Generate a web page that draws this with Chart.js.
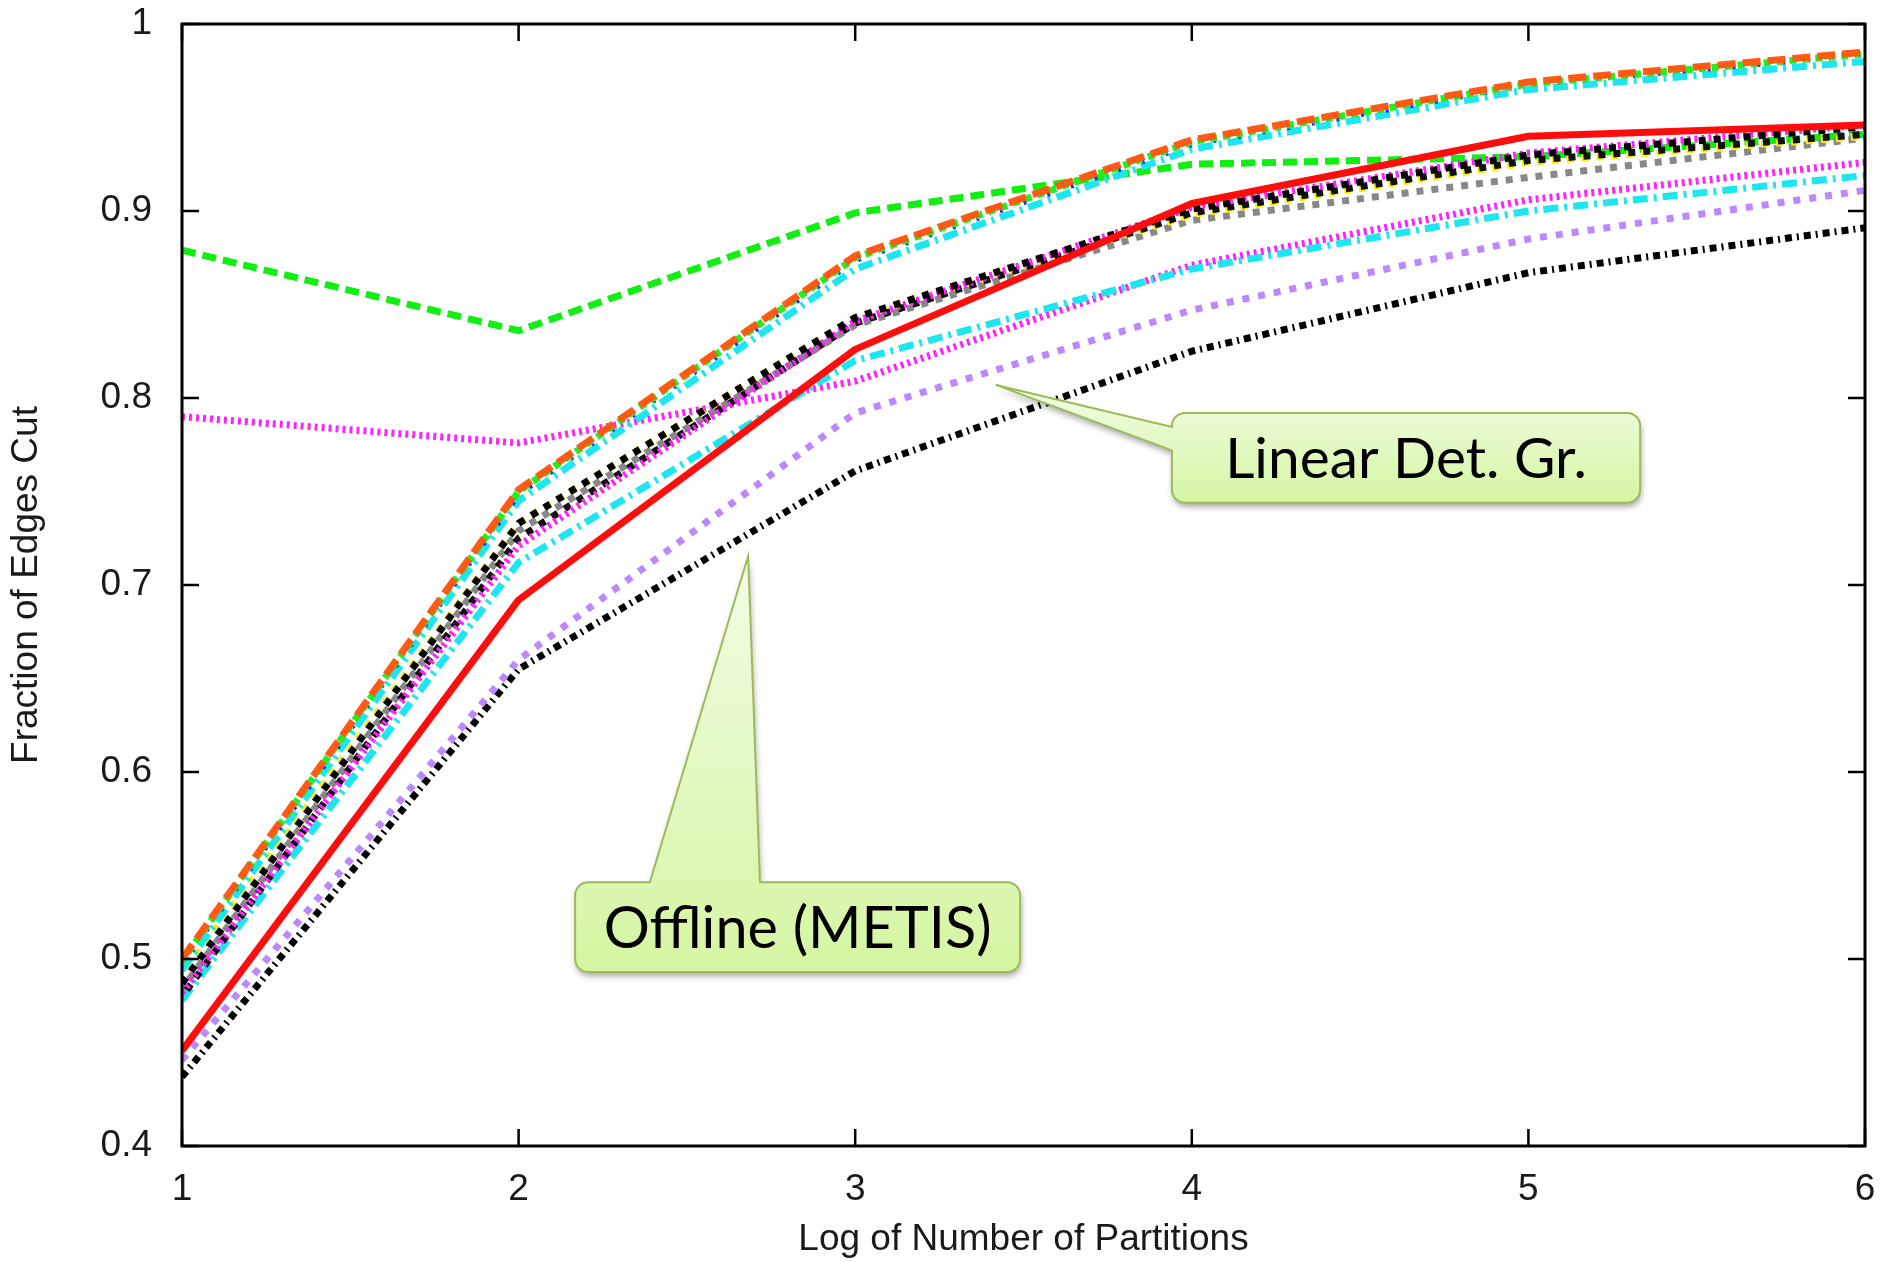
<!DOCTYPE html>
<html>

<head>
  <title>Fraction of Edges Cut</title>
  <script src="https://cdn.jsdelivr.net/npm/chart.js"></script>
  <style>
    html, body { margin: 0; padding: 0; background: #fff; }
    canvas { display: block; }
  </style>
</head>

<body>
  <canvas id="cutChart" width="1886" height="1262"></canvas>

  <script>
    // x = log of number of partitions
    const partitions = [1, 2, 3, 4, 5, 6];
    const yTickValues = [0.4, 0.5, 0.6, 0.7, 0.8, 0.9, 1];

    // series values
    const orangeTop    = [0.500, 0.751, 0.876, 0.938, 0.969, 0.985];
    const greenTop     = [0.499, 0.750, 0.875, 0.937, 0.968, 0.984];
    const blueTop      = [0.498, 0.749, 0.874, 0.936, 0.968, 0.984];
    const cyanTop      = [0.494, 0.745, 0.869, 0.933, 0.965, 0.980];
    const redSolid     = [0.451, 0.692, 0.826, 0.904, 0.940, 0.946];
    const blackDotA    = [0.487, 0.733, 0.843, 0.901, 0.930, 0.945];
    const magentaMid   = [0.482, 0.721, 0.841, 0.902, 0.931, 0.946];
    const blackDotB    = [0.480, 0.725, 0.840, 0.899, 0.927, 0.941];
    const yellowDot    = [0.492, 0.733, 0.843, 0.898, 0.926, 0.940];
    const grayDot      = [0.484, 0.729, 0.839, 0.895, 0.918, 0.939];
    const cyanLow      = [0.478, 0.712, 0.820, 0.869, 0.900, 0.919];
    const magentaTop   = [0.790, 0.776, 0.809, 0.871, 0.906, 0.926];
    const purpleDot    = [0.446, 0.660, 0.792, 0.847, 0.885, 0.911];
    const blackDashDot = [0.437, 0.655, 0.761, 0.825, 0.867, 0.891];
    const greenDash    = [0.879, 0.836, 0.899, 0.925, 0.929, 0.941];

    // callout labels, anchored in data units
    const callouts = [
      {
        text: 'Linear Det. Gr.',
        tip: { x: 3.418, y: 0.807 },
        box: { x0: 3.941, x1: 5.332, y0: 0.792, y1: 0.744 },
        wedge: { side: 'left', a: 0.7845, b: 0.772 },
        textWidth: 362
      },
      {
        text: 'Offline (METIS)',
        tip: { x: 2.682, y: 0.7155 },
        box: { x0: 2.168, x1: 3.490, y0: 0.541, y1: 0.493 },
        wedge: { side: 'top', a: 2.390, b: 2.717 },
        textWidth: 388
      }
    ];

    function series(label, values, color, dash, width, offset) {
      return {
        label: label,
        data: partitions.map((p, i) => ({ x: p, y: values[i] })),
        borderColor: color,
        backgroundColor: color,
        borderWidth: width || 7,
        borderDash: dash || [],
        borderDashOffset: offset || 0,
        borderCapStyle: 'butt',
        borderJoinStyle: 'round',
        pointRadius: 0,
        tension: 0,
        fill: false
      };
    }

    // dataset 0 is drawn last (on top)
    const datasets = [
      series('orange', orangeTop, '#ff5a14', [18, 7]),
      series('green top', greenTop, '#22ee22', [7, 6], 7, 3),
      series('blue top', blueTop, '#1133ff', [3, 22], 7, 10),
      series('cyan top', cyanTop, '#1ee6f0', [15, 6, 3, 6]),
      series('red', redSolid, '#ff0c0c', [], 7),
      series('black dot A', blackDotA, '#000000', [7, 8]),
      series('magenta mid', magentaMid, '#ff22ff', [3, 4]),
      series('black dot B', blackDotB, '#111111', [7, 8], 7, 7),
      series('yellow', yellowDot, '#ffee00', [7, 8], 7, 7),
      series('gray', grayDot, '#888888', [7, 8], 7, 3),
      series('cyan low', cyanLow, '#1ee6f0', [15, 6, 3, 6]),
      series('magenta top', magentaTop, '#ff22ff', [3, 4]),
      series('purple', purpleDot, '#bb88ff', [7, 9]),
      series('black dash-dot', blackDashDot, '#000000', [7, 5, 2, 5]),
      series('green dashed', greenDash, '#11ee11', [14, 7])
    ];

    // frame with inward ticks on all four sides
    const frameTicks = {
      id: 'frameTicks',
      afterDatasetsDraw(chart) {
        const { ctx, chartArea: a, scales: { x, y } } = chart;
        const len = 17;
        ctx.save();
        ctx.strokeStyle = '#000';
        ctx.lineWidth = 2.5;
        ctx.beginPath();
        x.ticks.forEach(t => {
          const px = x.getPixelForValue(t.value);
          ctx.moveTo(px, a.bottom); ctx.lineTo(px, a.bottom - len);
          ctx.moveTo(px, a.top); ctx.lineTo(px, a.top + len);
        });
        y.ticks.forEach(t => {
          const py = y.getPixelForValue(t.value);
          ctx.moveTo(a.left, py); ctx.lineTo(a.left + len, py);
          ctx.moveTo(a.right, py); ctx.lineTo(a.right - len, py);
        });
        ctx.stroke();
        ctx.lineWidth = 3;
        ctx.strokeRect(a.left, a.top, a.right - a.left, a.bottom - a.top);
        ctx.restore();
      }
    };

    // green rounded callout boxes
    const calloutBoxes = {
      id: 'calloutBoxes',
      afterDraw(chart) {
        const { ctx, scales: { x, y } } = chart;
        const r = 13;
        callouts.forEach(c => {
          const x0 = x.getPixelForValue(c.box.x0), x1 = x.getPixelForValue(c.box.x1);
          const y0 = y.getPixelForValue(c.box.y0), y1 = y.getPixelForValue(c.box.y1);
          const tx = x.getPixelForValue(c.tip.x), ty = y.getPixelForValue(c.tip.y);

          const path = new Path2D();
          path.moveTo(x0 + r, y0);
          if (c.wedge.side === 'top') {
            path.lineTo(x.getPixelForValue(c.wedge.a), y0);
            path.lineTo(tx, ty);
            path.lineTo(x.getPixelForValue(c.wedge.b), y0);
          }
          path.lineTo(x1 - r, y0);
          path.arcTo(x1, y0, x1, y0 + r, r);
          path.lineTo(x1, y1 - r);
          path.arcTo(x1, y1, x1 - r, y1, r);
          path.lineTo(x0 + r, y1);
          path.arcTo(x0, y1, x0, y1 - r, r);
          if (c.wedge.side === 'left') {
            path.lineTo(x0, y.getPixelForValue(c.wedge.b));
            path.lineTo(tx, ty);
            path.lineTo(x0, y.getPixelForValue(c.wedge.a));
          }
          path.lineTo(x0, y0 + r);
          path.arcTo(x0, y0, x0 + r, y0, r);
          path.closePath();

          const gTop = Math.min(y0, ty);
          const grad = ctx.createLinearGradient(0, gTop, 0, y1);
          grad.addColorStop(0, '#f3fce6');
          grad.addColorStop(1, '#d5f5a2');

          ctx.save();
          ctx.shadowColor = 'rgba(0, 0, 0, 0.35)';
          ctx.shadowBlur = 6;
          ctx.shadowOffsetX = 1;
          ctx.shadowOffsetY = 4;
          ctx.fillStyle = grad;
          ctx.fill(path);
          ctx.restore();

          ctx.save();
          ctx.strokeStyle = '#9bbb59';
          ctx.lineWidth = 2;
          ctx.lineJoin = 'miter';
          ctx.stroke(path);

          ctx.font = '100px Lato';
          const size = 100 * c.textWidth / ctx.measureText(c.text).width;
          ctx.font = size.toFixed(1) + 'px Lato';
          ctx.fillStyle = '#000';
          ctx.textAlign = 'center';
          ctx.textBaseline = 'alphabetic';
          ctx.fillText(c.text, (x0 + x1) / 2, (y0 + y1) / 2 + size * 0.36);
          ctx.restore();
        });
      }
    };

    const axisFont = { family: 'Liberation Sans', size: 37 };

    const ctx = document.getElementById('cutChart').getContext('2d');
    const cutChart = new Chart(ctx, {
      type: 'line',
      data: { datasets: datasets },
      options: {
        responsive: false,
        animation: false,
        devicePixelRatio: 1,
        layout: { padding: { top: 24, right: 21, bottom: 0, left: 0 } },
        plugins: {
          legend: { display: false },
          tooltip: { enabled: false }
        },
        scales: {
          x: {
            type: 'linear',
            min: 1,
            max: 6,
            grid: { display: false },
            border: { display: false },
            ticks: {
              stepSize: 1,
              color: '#1a1a1a',
              font: axisFont,
              padding: 14,
              maxRotation: 0
            },
            title: {
              display: true,
              text: 'Log of Number of Partitions',
              color: '#1a1a1a',
              font: axisFont,
              padding: { top: 0, bottom: 0 }
            },
            afterFit(scale) {
              scale.height = 116;
              scale.paddingLeft = 0;
              scale.paddingRight = 0;
            }
          },
          y: {
            type: 'linear',
            min: 0.4,
            max: 1,
            grid: { display: false },
            border: { display: false },
            afterBuildTicks(scale) {
              scale.ticks = yTickValues.map(v => ({ value: v }));
            },
            ticks: {
              color: '#1a1a1a',
              font: axisFont,
              padding: 22,
              callback: v => String(Number(v.toFixed(1)))
            },
            title: {
              display: true,
              text: 'Fraction of Edges Cut',
              color: '#1a1a1a',
              font: axisFont,
              padding: { top: 5, bottom: 0 }
            },
            afterFit(scale) {
              scale.width = 182;
              scale.paddingTop = 0;
              scale.paddingBottom = 0;
            }
          }
        }
      },
      plugins: [frameTicks, calloutBoxes]
    });
  </script>
</body>

</html>
